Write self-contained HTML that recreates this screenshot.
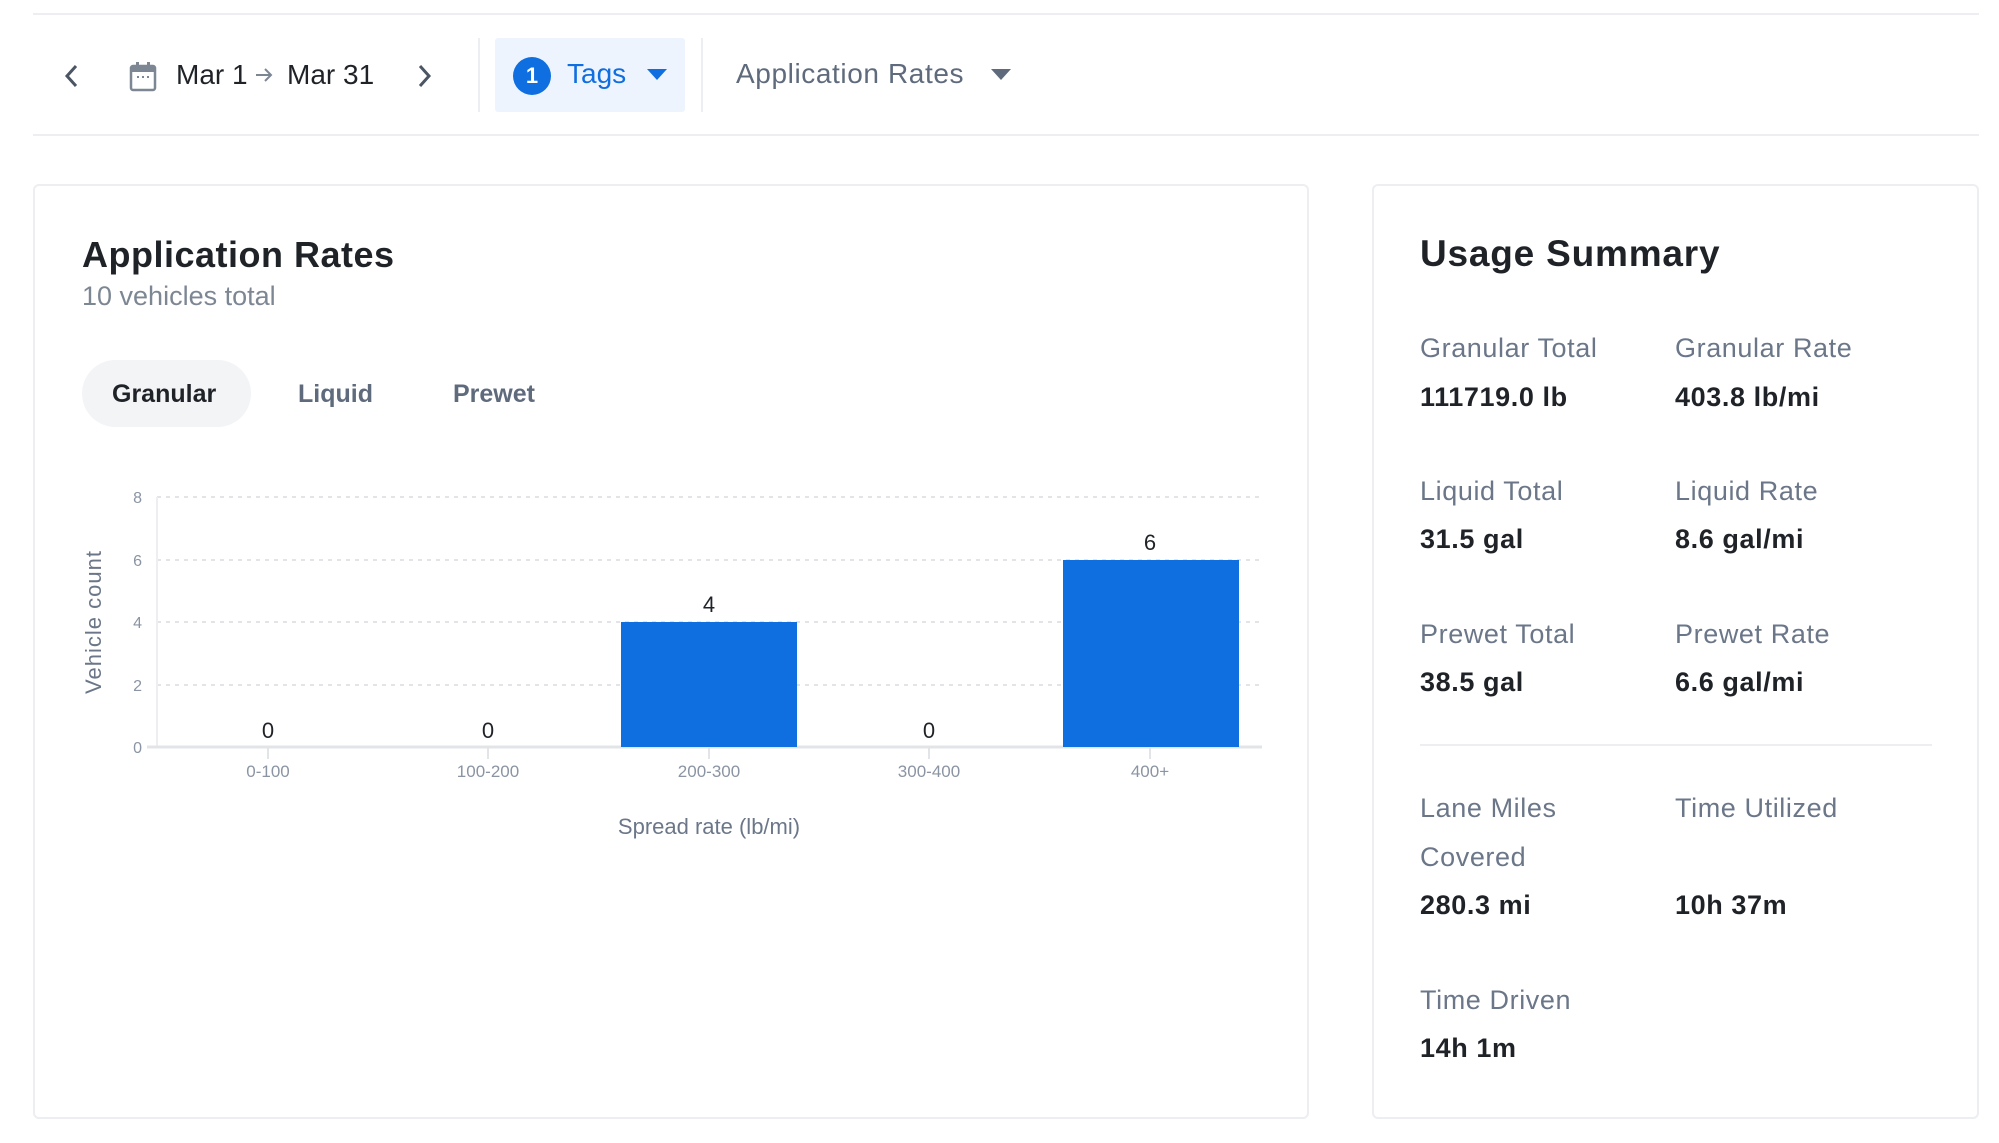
<!DOCTYPE html>
<html><head><meta charset="utf-8"><style>
*{margin:0;padding:0;box-sizing:border-box}
body{width:1999px;height:1143px;background:#fff;font-family:"Liberation Sans",sans-serif;position:relative;overflow:hidden;color:#1f2328}
.a{position:absolute;white-space:nowrap}
.lbl{color:#6b7789;font-size:27px;letter-spacing:0.6px}
.val{color:#1f2328;font-size:27px;font-weight:bold;letter-spacing:0.6px}
</style></head><body>
<div class="a" style="left:33px;top:13px;width:1946px;height:2px;background:#eceef1"></div>
<div class="a" style="left:33px;top:134px;width:1946px;height:2px;background:#eceef1"></div>
<!-- nav -->
<svg class="a" style="left:62px;top:63px" width="20" height="26" viewBox="0 0 20 26"><polyline points="14,3 5,13 14,23" fill="none" stroke="#4b5563" stroke-width="3"/></svg>
<svg class="a" style="left:129px;top:60px" width="28" height="32" viewBox="0 0 28 32"><rect x="2" y="6" width="24" height="24" rx="2" fill="none" stroke="#7d8794" stroke-width="2.5"/><rect x="2" y="6" width="24" height="6" fill="#7d8794"/><rect x="7" y="2" width="3" height="6" fill="#7d8794"/><rect x="18" y="2" width="3" height="6" fill="#7d8794"/><rect x="8" y="16" width="2" height="2" fill="#7d8794"/><rect x="13" y="16" width="2" height="2" fill="#7d8794"/><rect x="18" y="16" width="2" height="2" fill="#7d8794"/></svg>
<div class="a" style="left:176px;top:59px;font-size:28px;color:#1f2328">Mar 1</div>
<svg class="a" style="left:254px;top:66px" width="20" height="18" viewBox="0 0 20 18"><line x1="2" y1="9" x2="17" y2="9" stroke="#7d8794" stroke-width="2"/><polyline points="11,3 17,9 11,15" fill="none" stroke="#7d8794" stroke-width="2"/></svg>
<div class="a" style="left:287px;top:59px;font-size:28px;color:#1f2328">Mar 31</div>
<svg class="a" style="left:414px;top:63px" width="20" height="26" viewBox="0 0 20 26"><polyline points="6,3 15,13 6,23" fill="none" stroke="#4b5563" stroke-width="3"/></svg>
<div class="a" style="left:478px;top:38px;width:2px;height:74px;background:#eceef1"></div>
<div class="a" style="left:495px;top:38px;width:190px;height:74px;background:#eef4fe;border-radius:3px"></div>
<div class="a" style="left:513px;top:57px;width:38px;height:38px;border-radius:50%;background:#0f6ee0;color:#fff;font-size:22px;font-weight:bold;text-align:center;line-height:38px">1</div>
<div class="a" style="left:567px;top:58px;font-size:28px;color:#0f6ee0">Tags</div>
<div class="a" style="left:647px;top:69px;width:0;height:0;border-left:10px solid transparent;border-right:10px solid transparent;border-top:11px solid #0f6ee0"></div>
<div class="a" style="left:701px;top:38px;width:2px;height:74px;background:#eceef1"></div>
<div class="a" style="left:736px;top:58px;font-size:28px;color:#5f6b7c;letter-spacing:0.6px">Application Rates</div>
<div class="a" style="left:991px;top:69px;width:0;height:0;border-left:10px solid transparent;border-right:10px solid transparent;border-top:11px solid #5f6b7c"></div>
<!-- left card -->
<div class="a" style="left:33px;top:184px;width:1276px;height:935px;border:2px solid #eceef1;border-radius:6px"></div>
<div class="a" style="left:82px;top:234px;font-size:36px;font-weight:bold;color:#1f2328;letter-spacing:0.5px">Application Rates</div>
<div class="a" style="left:82px;top:281px;font-size:27px;color:#7d8794">10 vehicles total</div>
<div class="a" style="left:82px;top:360px;width:169px;height:67px;border-radius:34px;background:#f3f4f6"></div>
<div class="a" style="left:112px;top:380px;font-size:25px;font-weight:bold;color:#1f2328">Granular</div>
<div class="a" style="left:298px;top:380px;font-size:25px;font-weight:bold;color:#5f6b7c">Liquid</div>
<div class="a" style="left:453px;top:380px;font-size:25px;font-weight:bold;color:#5f6b7c">Prewet</div>
<svg class="a" style="left:0;top:0" width="1320" height="860">
<g stroke="#e2e4e8" stroke-width="2" stroke-dasharray="4 5">
<line x1="157" y1="497" x2="1262" y2="497"/><line x1="157" y1="560" x2="1262" y2="560"/><line x1="157" y1="622" x2="1262" y2="622"/><line x1="157" y1="685" x2="1262" y2="685"/></g>
<line x1="157" y1="497" x2="157" y2="747" stroke="#eceef1" stroke-width="2"/>
<line x1="147" y1="747" x2="1262" y2="747" stroke="#e2e4e8" stroke-width="3"/>
<g stroke="#e2e4e8" stroke-width="2"><line x1="268" y1="747" x2="268" y2="759"/><line x1="488" y1="747" x2="488" y2="759"/><line x1="709" y1="747" x2="709" y2="759"/><line x1="929" y1="747" x2="929" y2="759"/><line x1="1150" y1="747" x2="1150" y2="759"/></g>
<rect x="621" y="622" width="176" height="125" fill="#0f6ee0"/>
<rect x="1063" y="560" width="176" height="187" fill="#0f6ee0"/>
<g font-family="Liberation Sans" font-size="16" fill="#8a94a3" text-anchor="end">
<text x="142" y="503">8</text><text x="142" y="566">6</text><text x="142" y="628">4</text><text x="142" y="691">2</text><text x="142" y="753">0</text></g>
<g font-family="Liberation Sans" font-size="17" fill="#8a94a3" text-anchor="middle">
<text x="268" y="777">0-100</text><text x="488" y="777">100-200</text><text x="709" y="777">200-300</text><text x="929" y="777">300-400</text><text x="1150" y="777">400+</text></g>
<g font-family="Liberation Sans" font-size="22" fill="#1f2328" text-anchor="middle">
<text x="268" y="738">0</text><text x="488" y="738">0</text><text x="709" y="612">4</text><text x="929" y="738">0</text><text x="1150" y="550">6</text></g>
<text x="709" y="834" font-family="Liberation Sans" font-size="22" fill="#6b7789" text-anchor="middle">Spread rate (lb/mi)</text>
<text transform="translate(101,622) rotate(-90)" font-family="Liberation Sans" font-size="22" fill="#6b7789" text-anchor="middle" letter-spacing="1">Vehicle count</text>
</svg>
<!-- right card -->
<div class="a" style="left:1372px;top:184px;width:607px;height:935px;border:2px solid #eceef1;border-radius:6px"></div>
<div class="a" style="left:1420px;top:233px;font-size:37px;font-weight:bold;color:#1f2328;letter-spacing:0.8px">Usage Summary</div>
<div class="a lbl" style="left:1420px;top:333px">Granular Total</div>
<div class="a val" style="left:1420px;top:382px">111719.0 lb</div>
<div class="a lbl" style="left:1675px;top:333px">Granular Rate</div>
<div class="a val" style="left:1675px;top:382px">403.8 lb/mi</div>
<div class="a lbl" style="left:1420px;top:476px">Liquid Total</div>
<div class="a val" style="left:1420px;top:524px">31.5 gal</div>
<div class="a lbl" style="left:1675px;top:476px">Liquid Rate</div>
<div class="a val" style="left:1675px;top:524px">8.6 gal/mi</div>
<div class="a lbl" style="left:1420px;top:619px">Prewet Total</div>
<div class="a val" style="left:1420px;top:667px">38.5 gal</div>
<div class="a lbl" style="left:1675px;top:619px">Prewet Rate</div>
<div class="a val" style="left:1675px;top:667px">6.6 gal/mi</div>
<div class="a" style="left:1420px;top:744px;width:512px;height:2px;background:#eceef1"></div>
<div class="a lbl" style="left:1420px;top:793px">Lane Miles</div>
<div class="a lbl" style="left:1420px;top:842px">Covered</div>
<div class="a val" style="left:1420px;top:890px">280.3 mi</div>
<div class="a lbl" style="left:1675px;top:793px">Time Utilized</div>
<div class="a val" style="left:1675px;top:890px">10h 37m</div>
<div class="a lbl" style="left:1420px;top:985px">Time Driven</div>
<div class="a val" style="left:1420px;top:1033px">14h 1m</div>
</body></html>
